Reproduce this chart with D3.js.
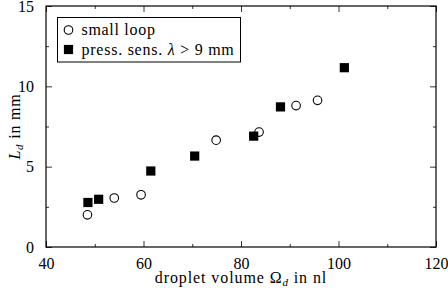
<!DOCTYPE html>
<html>
<head>
<meta charset="utf-8">
<script src="https://cdnjs.cloudflare.com/ajax/libs/d3/7.8.5/d3.min.js"></script>
<style>
  body { margin: 0; background: #fff; }
  text { font-family: "Liberation Serif", "DejaVu Serif", serif; fill: #000; }
</style>
</head>
<body>
<svg id="chart" width="448" height="288"></svg>
<script>
// small loop (circles)
const loopVol = [48.5, 54.0, 59.5, 74.9, 83.7, 91.3, 95.7];
const loopLen = [2.0, 3.05, 3.25, 6.65, 7.15, 8.8, 9.13];
// pressure sensor, lambda > 9 mm (squares)
const pressVol = [48.6, 50.8, 61.5, 70.5, 82.6, 88.1, 101.2];
const pressLen = [2.77, 2.97, 4.73, 5.66, 6.9, 8.72, 11.16];

const xMajor = [40, 60, 80, 100, 120];
const xMinor = [50, 70, 90, 110];
const yMajor = [0, 5, 10, 15];
const yMinor = [2.5, 7.5, 12.5];

const svg = d3.select("#chart");
const margin = {top: 6, right: 12, bottom: 41, left: 46};
const width = 448 - margin.left - margin.right;
const height = 288 - margin.top - margin.bottom;
const g = svg.append("g").attr("transform", "translate(" + margin.left + "," + margin.top + ")");

const x = d3.scaleLinear().domain([40, 120]).range([0, width]);
const y = d3.scaleLinear().domain([0, 15]).range([height, 0]);

// axes, ticks pointing inward on all four sides
function axisStyle(sel) {
	sel.select(".domain").remove();
	sel.selectAll("line").attr("stroke", "#000").attr("stroke-width", 0.8);
}
g.append("g").attr("transform", "translate(0," + height + ")")
	.call(d3.axisBottom(x).tickValues(xMajor).tickSize(-6).tickPadding(11).tickFormat(d3.format("d")))
	.call(axisStyle)
	.selectAll("text").style("font-size", "16px");
g.append("g").attr("transform", "translate(0," + height + ")")
	.call(d3.axisBottom(x).tickValues(xMinor).tickSize(-3).tickFormat(""))
	.call(axisStyle);
g.append("g")
	.call(d3.axisTop(x).tickValues(xMajor).tickSize(-6).tickFormat(""))
	.call(axisStyle);
g.append("g")
	.call(d3.axisTop(x).tickValues(xMinor).tickSize(-3).tickFormat(""))
	.call(axisStyle);
g.append("g")
	.call(d3.axisLeft(y).tickValues(yMajor).tickSize(-6).tickPadding(12).tickFormat(d3.format("d")))
	.call(axisStyle)
	.selectAll("text").style("font-size", "16px");
g.append("g")
	.call(d3.axisLeft(y).tickValues(yMinor).tickSize(-3).tickFormat(""))
	.call(axisStyle);
g.append("g").attr("transform", "translate(" + width + ",0)")
	.call(d3.axisRight(y).tickValues(yMajor).tickSize(-6).tickFormat(""))
	.call(axisStyle);
g.append("g").attr("transform", "translate(" + width + ",0)")
	.call(d3.axisRight(y).tickValues(yMinor).tickSize(-3).tickFormat(""))
	.call(axisStyle);

g.append("rect")
	.attr("width", width).attr("height", height)
	.attr("fill", "none").attr("stroke", "#000").attr("stroke-width", 1.2);

// points
g.append("g").selectAll("circle")
	.data(d3.zip(loopVol, loopLen))
	.enter().append("circle")
	.attr("cx", d => x(d[0]))
	.attr("cy", d => y(d[1]))
	.attr("r", 4.3)
	.attr("fill", "#fff")
	.attr("stroke", "#000")
	.attr("stroke-width", 1.1);

g.append("g").selectAll("rect")
	.data(d3.zip(pressVol, pressLen))
	.enter().append("rect")
	.attr("x", d => x(d[0]) - 4.6)
	.attr("y", d => y(d[1]) - 4.6)
	.attr("width", 9.2)
	.attr("height", 9.2)
	.attr("fill", "#000");

// axis labels
const xl = svg.append("text")
	.attr("x", margin.left + width / 2)
	.attr("y", 283)
	.attr("text-anchor", "middle")
	.style("font-size", "16px")
	.style("letter-spacing", "0.9px");
xl.append("tspan").text("droplet volume ");
xl.append("tspan").text("Ω");
xl.append("tspan").attr("font-style", "italic").attr("font-size", "11px").attr("dy", 3).text("d");
xl.append("tspan").attr("dy", -3).text(" in nl");

const yl = svg.append("text")
	.attr("transform", "translate(20," + (margin.top + height / 2) + ") rotate(-90)")
	.attr("text-anchor", "middle")
	.style("font-size", "16px")
	.style("letter-spacing", "0.8px");
yl.append("tspan").attr("font-style", "italic").text("L");
yl.append("tspan").attr("font-style", "italic").attr("font-size", "11px").attr("dy", 3).text("d");
yl.append("tspan").attr("dy", -3).text(" in mm");

// legend
const legend = svg.append("g").attr("transform", "translate(57.5,17.5)");
legend.append("rect")
	.attr("width", 183).attr("height", 44.5)
	.attr("fill", "#fff").attr("stroke", "#000").attr("stroke-width", 1);
legend.append("circle")
	.attr("cx", 11).attr("cy", 12.5).attr("r", 4.3)
	.attr("fill", "#fff").attr("stroke", "#000").attr("stroke-width", 1.1);
legend.append("text").attr("x", 24).attr("y", 17.5)
	.style("font-size", "16px").style("letter-spacing", "0.7px").text("small loop");
legend.append("rect")
	.attr("x", 6.4).attr("y", 27.4).attr("width", 9.2).attr("height", 9.2).attr("fill", "#000");
const lt = legend.append("text").attr("x", 24).attr("y", 37)
	.style("font-size", "16px").style("letter-spacing", "0.75px");
lt.append("tspan").text("press. sens. ");
lt.append("tspan").attr("font-style", "italic").text("λ");
lt.append("tspan").text(" > 9 mm");
</script>
</body>
</html>
